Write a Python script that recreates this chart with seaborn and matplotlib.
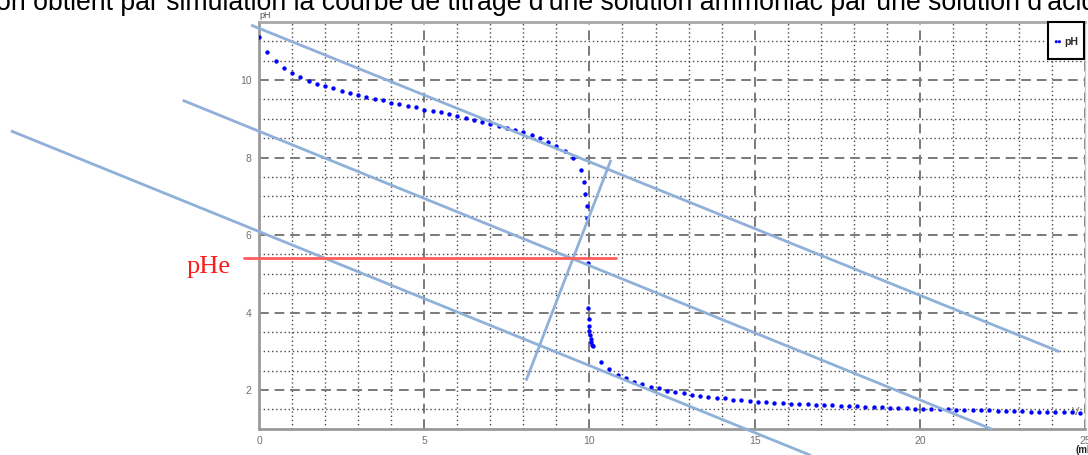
import matplotlib
matplotlib.use("Agg")
import matplotlib.pyplot as plt
from matplotlib.ticker import MultipleLocator
from matplotlib.patches import Rectangle
import seaborn as sns

# Simulated titration: added volume (mL) and measured pH
volume_ml = [
    0.00, 0.25, 0.50, 0.75, 1.00, 1.25, 1.50, 1.75, 2.00, 2.25,
    2.50, 2.75, 3.00, 3.25, 3.50, 3.75, 4.00, 4.25, 4.50, 4.75,
    5.00, 5.25, 5.50, 5.75, 6.00, 6.25, 6.50, 6.75, 7.00, 7.25,
    7.50, 7.75, 8.00, 8.25, 8.50, 8.75, 9.00, 9.25, 9.50, 9.75,
    9.82, 9.88, 9.92, 9.94, 9.96, 9.97, 9.98, 9.99, 10.00, 10.02,
    10.04, 10.06, 10.08, 10.10, 10.36, 10.60, 10.86, 11.10, 11.36, 11.60,
    11.86, 12.10, 12.35, 12.60, 12.85, 13.10, 13.35, 13.60, 13.85, 14.10,
    14.35, 14.60, 14.85, 15.10, 15.35, 15.60, 15.85, 16.10, 16.35, 16.60,
    16.85, 17.10, 17.35, 17.60, 17.85, 18.10, 18.35, 18.60, 18.85, 19.10,
    19.35, 19.60, 19.85, 20.10, 20.35, 20.60, 20.85, 21.10, 21.35, 21.60,
    21.85, 22.10, 22.35, 22.60, 22.85, 23.10, 23.35, 23.60, 23.85, 24.10,
    24.35, 24.60, 24.85,
]
ph_values = [
    11.12, 10.73, 10.50, 10.32, 10.19, 10.08, 9.99, 9.91, 9.85, 9.79,
    9.72, 9.66, 9.61, 9.57, 9.51, 9.48, 9.42, 9.39, 9.33, 9.30,
    9.24, 9.21, 9.17, 9.12, 9.08, 9.03, 8.98, 8.93, 8.87, 8.82,
    8.76, 8.71, 8.66, 8.59, 8.50, 8.40, 8.29, 8.17, 7.98, 7.67,
    7.36, 7.05, 6.76, 6.45, 5.29, 4.12, 3.83, 3.66, 3.53, 3.42,
    3.32, 3.23, 3.17, 3.13, 2.72, 2.53, 2.39, 2.30, 2.21, 2.15,
    2.08, 2.04, 1.98, 1.94, 1.91, 1.88, 1.85, 1.83, 1.80, 1.78,
    1.75, 1.74, 1.71, 1.69, 1.68, 1.67, 1.66, 1.64, 1.63, 1.63,
    1.62, 1.61, 1.60, 1.59, 1.59, 1.58, 1.57, 1.56, 1.55, 1.54,
    1.54, 1.53, 1.52, 1.51, 1.51, 1.50, 1.50, 1.49, 1.49, 1.48,
    1.47, 1.47, 1.46, 1.46, 1.45, 1.45, 1.44, 1.44, 1.43, 1.43,
    1.42, 1.42, 1.41,
]

x_ticks = [0, 5, 10, 15, 20, 25]
y_ticks = [2, 4, 6, 8, 10]

# Parallel tangents method: end points (mL, pH) of each construction line
tangent_upper_x = [-0.24, 24.22]
tangent_upper_y = [11.42, 2.99]
tangent_middle_x = [-2.31, 22.20]
tangent_middle_y = [9.48, 0.98]
tangent_lower_x = [-7.51, 16.70]
tangent_lower_y = [8.69, 0.31]
perpendicular_x = [8.08, 10.65]
perpendicular_y = [2.24, 7.94]
phe_value = 5.40
phe_x = [-0.45, 10.80]

title_text = ("on obtient par simulation la courbe de titrage d'une solution "
              "ammoniac par une solution d'acide")

sns.set_style("white")
plt.rcParams["font.family"] = ["Liberation Sans", "DejaVu Sans"]

fig = plt.figure(figsize=(10.88, 4.55), dpi=100)
ax = fig.add_axes([0.2381, 0.0578, 0.7592, 0.8938])

sns.scatterplot(x=volume_ml, y=ph_values, ax=ax, color="#0000ff", s=10,
                linewidth=0, label="pH", zorder=4, legend=False)

ax.set_xlim(0, 25)
ax.set_ylim(1, 11.5)
ax.set_xticks(x_ticks)
ax.set_yticks(y_ticks)
ax.xaxis.set_minor_locator(MultipleLocator(1))
ax.yaxis.set_minor_locator(MultipleLocator(0.5))

ax.grid(which="major", linestyle=(0, (5, 3)), color="#7a7a7a", linewidth=1.4)
ax.grid(which="minor", linestyle=(0, (1, 2)), color="#4a4a4a", linewidth=1.0)
ax.set_axisbelow(True)

ax.tick_params(which="major", direction="out", length=4, width=1,
               color="#888888", labelsize=7.5, labelcolor="#707070", pad=1.5)
ax.tick_params(which="minor", direction="out", length=2, width=1, color="#888888")

for side in ("left", "bottom"):
    ax.spines[side].set_color("#9a9a9a")
    ax.spines[side].set_linewidth(2.0)
ax.spines["top"].set_color("#a8a8a8")
ax.spines["top"].set_linewidth(2.0)
ax.spines["right"].set_color("#cccccc")
ax.spines["right"].set_linewidth(1.0)

ax.set_xlabel("")
ax.set_ylabel("")

# Construction lines drawn over the curve, extending past the frame
line_kw = dict(color="#8fb0d9", linewidth=2.0, clip_on=False, zorder=5,
               solid_capstyle="butt")
ax.plot(tangent_upper_x, tangent_upper_y, **line_kw)
ax.plot(tangent_middle_x, tangent_middle_y, **line_kw)
ax.plot(tangent_lower_x, tangent_lower_y, **line_kw)
ax.plot(perpendicular_x, perpendicular_y, **line_kw)
ax.plot(phe_x, [phe_value, phe_value], color="#ff5c5c", linewidth=2.0,
        clip_on=False, zorder=5)
ax.text(-0.85, phe_value - 0.22, "pHe", color="#ff1a1a", fontsize=19,
        family="Liberation Serif", ha="right", va="center", clip_on=False)

# Axis titles in the corners
ax.text(0.0, 1.004, "pH", transform=ax.transAxes, fontsize=6.5, color="#555555",
        ha="left", va="bottom")
ax.text(0.993, 0.03, "V", transform=ax.transAxes, fontsize=8, color="#777777",
        ha="right", va="bottom")
ax.text(0.988, -0.052, "(ml)", transform=ax.transAxes, fontsize=7,
        fontweight="bold", color="#222222", ha="left", va="center",
        clip_on=False)

# Legend box in the top-right corner
ax.add_patch(Rectangle((0.9548, 0.9099), 0.0440, 0.0901, transform=ax.transAxes,
                       facecolor="white", edgecolor="black", linewidth=1.5,
                       zorder=6, clip_on=False))
handles, labels = ax.get_legend_handles_labels()
leg = ax.legend(handles, labels, loc="center", bbox_to_anchor=(0.9768, 0.950),
                frameon=False, scatterpoints=2, scatteryoffsets=[0.5],
                markerscale=0.7, handlelength=0.9, handletextpad=0.2,
                borderpad=0.0, prop={"weight": "bold", "size": 7.5})
leg.set_zorder(7)

fig.text(-0.004, 1 - 10 / 455, title_text, fontsize=19.2, color="black",
         ha="left", va="baseline")

fig.savefig("out.png", dpi=100, facecolor="white")
